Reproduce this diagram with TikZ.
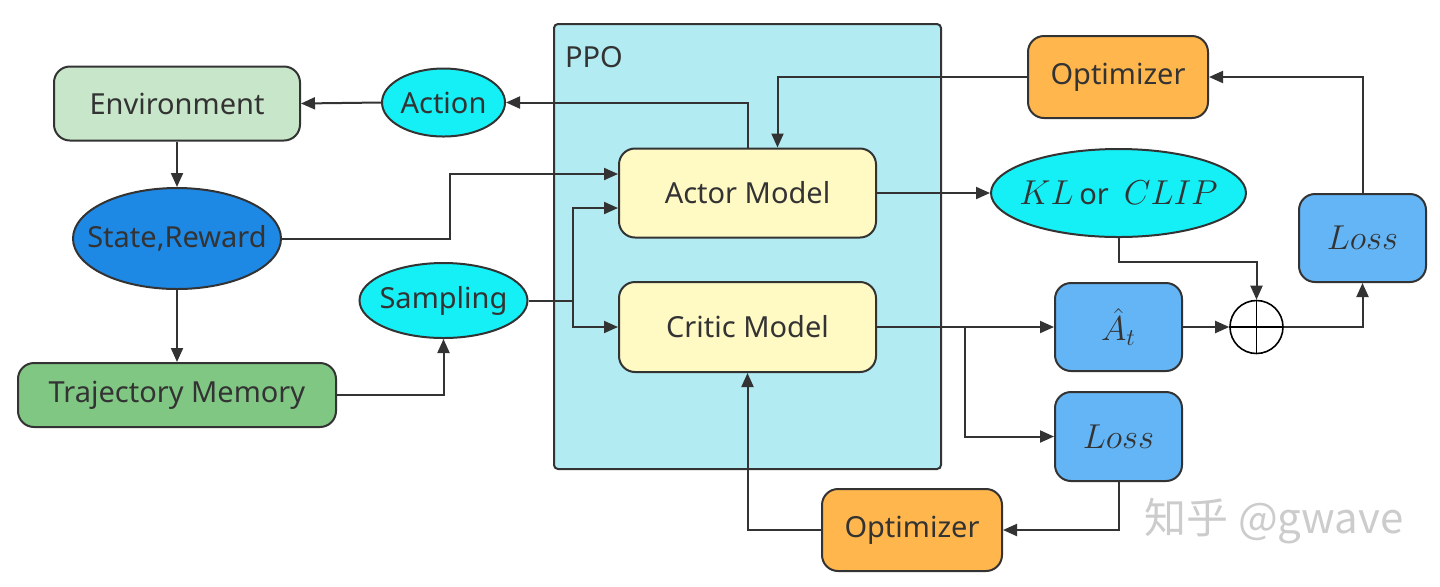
\documentclass[tikz,border=0pt]{standalone}
\usepackage{fontspec}
\setmainfont{Noto Sans}
\newfontfamily\cjkfont{Noto Sans CJK SC}
\usepackage{amsmath}
\usepackage{tikz}
\usetikzlibrary{shapes.geometric,arrows.meta}

\definecolor{edge}{HTML}{333333}
\definecolor{ppobg}{HTML}{B2EBF2}
\definecolor{envbg}{HTML}{C8E6C9}
\definecolor{trajbg}{HTML}{81C784}
\definecolor{statebg}{HTML}{1E88E5}
\definecolor{cyanbg}{HTML}{14F0F6}
\definecolor{modelbg}{HTML}{FFF9C4}
\definecolor{optbg}{HTML}{FFB74D}
\definecolor{lossbg}{HTML}{64B5F6}

\begin{document}
\begin{tikzpicture}[x=0.5pt, y=-0.5pt, font=\fontsize{14.5}{17}\selectfont,
		box/.style={draw=edge, line width=1pt, rounded corners=8pt, text=edge, inner sep=0pt},
		oval/.style={draw=edge, line width=1pt, ellipse, text=edge, inner sep=0pt,
			execute at begin node={\hbox to 0pt\bgroup\hss}, execute at end node={\hss\egroup}},
		link/.style={draw=edge, line width=1pt, -{Triangle[length=7pt,width=6pt]}},
		mathbig/.style={font=\fontsize{17.5}{20}\selectfont}]
				\useasboundingbox (0,0) rectangle (1440,586);
				
				\draw[draw=edge, fill=ppobg, line width=1pt, rounded corners=2pt] (554,24) rectangle (941,469);
				\node[anchor=west, text=edge] (ppo) at (558,57) {PPO};
				
				\node[box, fill=envbg, minimum width=123pt, minimum height=37pt] (env) at (177,103.5) {Environment};
				\node[oval, fill=cyanbg, minimum width=61.5pt, minimum height=34pt] (act) at (443.5,102.5) {Action};
				\node[oval, fill=statebg, minimum width=104pt, minimum height=50.5pt] (sr) at (177,238.5) {State,Reward};
				\node[box, fill=trajbg, minimum width=159pt, minimum height=32pt] (traj) at (177,395) {Trajectory Memory};
				\node[oval, fill=cyanbg, minimum width=84pt, minimum height=37.5pt] (samp) at (443.5,300.5) {Sampling};
				
				\node[box, fill=modelbg, minimum width=128.5pt, minimum height=44.5pt] (actor) at (747.5,193) {Actor Model};
				\node[box, fill=modelbg, minimum width=128.5pt, minimum height=45pt] (critic) at (747.5,327) {Critic Model};
				
				\node[box, fill=optbg, minimum width=90pt, minimum height=41pt] (opt1) at (1118,77) {Optimizer};
				\node[oval, fill=cyanbg, minimum width=127.5pt, minimum height=44pt, mathbig] (kl) at (1118.5,193) {$KL$\,{\fontsize{14.5}{17}\selectfont or}\, $CLIP$};
				\node[box, fill=lossbg, minimum width=63.5pt, minimum height=44pt, mathbig] (loss1) at (1362.5,238) {$Loss$};
				\node[box, fill=lossbg, minimum width=63.5pt, minimum height=44pt, mathbig] (ahat) at (1118.5,327) {$\hat{A}_t$};
				\node[draw=black, circle, fill=white, line width=0.8pt, minimum size=26.5pt, inner sep=0pt] (plus) at (1256.5,327) {};
				\draw[black, line width=0.8pt] (plus.north) -- (plus.south);
				\draw[black, line width=0.8pt] (plus.west) -- (plus.east);
				\node[box, fill=lossbg, minimum width=63.5pt, minimum height=44.5pt, mathbig] (loss2) at (1118.5,436.5) {$Loss$};
				\node[box, fill=optbg, minimum width=90pt, minimum height=41pt] (opt2) at (912,530) {Optimizer};
				
				\node[text=gray!40, font=\cjkfont\fontsize{21}{24}\selectfont] (mark) at (1274,521) {知乎 @gwave};
				
				\draw[link] (actor.north) |- (act.east);
				\draw[link] (act.west) -- (env.east);
				\draw[link] (env.south) -- (sr.north);
				\draw[link] (sr.south) -- (traj.north);
				\draw[link] (traj.east) -| (samp.south);
				\draw[link] (sr.east) -- (450,238.5) |- ([yshift=9.5pt]actor.west);
				
				\coordinate (sp) at (573,300.5);
				\draw[link] (samp.east) -- (sp) |- ([yshift=-7.5pt]actor.west);
				\draw[link] (sp) |- (critic.west);
				
				\draw[link] (opt1.west) -| ([xshift=15pt]actor.north);
				\draw[link] (actor.east) -- (kl.west);
				
				\coordinate (cb) at (965,327);
				\draw[link] (critic.east) -- (ahat.west);
				\draw[link] (cb) |- (loss2.west);
				
				\draw[link] (kl.south) -- (1118.5,262) -| (plus.north);
				\draw[link] (ahat.east) -- (plus.west);
				\draw[link] (plus.east) -| (loss1.south);
				\draw[link] (loss1.north) |- (opt1.east);
				
				\draw[link] (loss2.south) |- (opt2.east);
				\draw[link] (opt2.west) -| (critic.south);
			\end{tikzpicture}
\end{document}
